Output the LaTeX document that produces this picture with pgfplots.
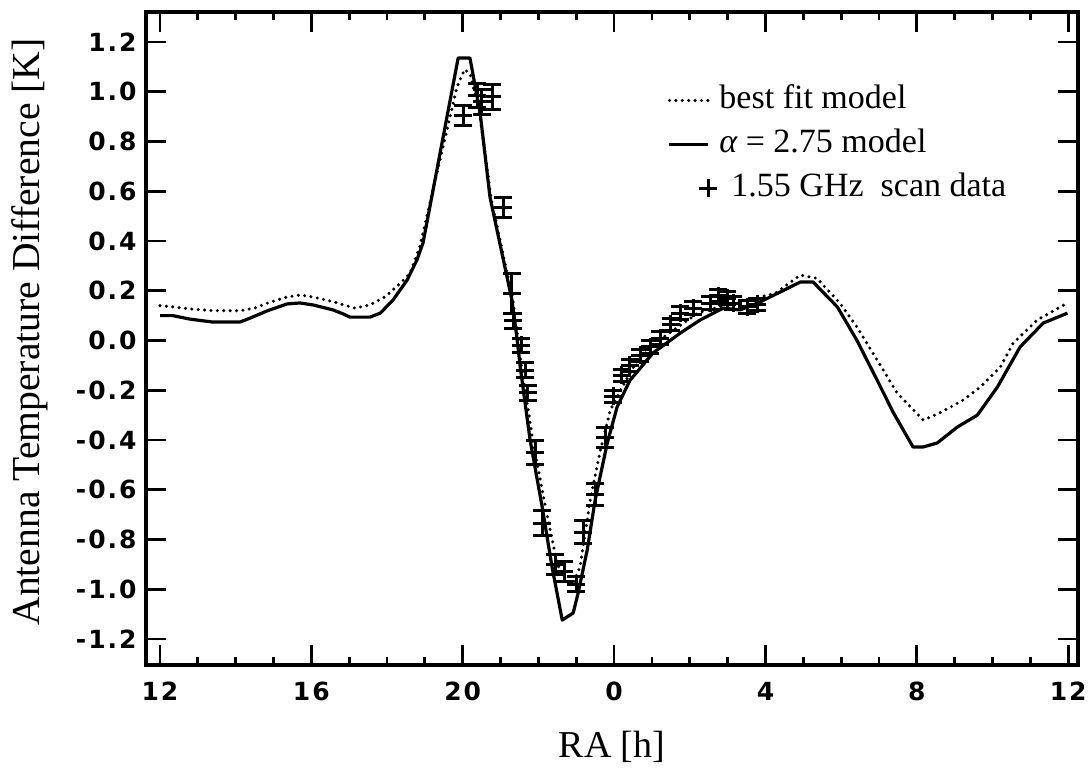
\documentclass[border=0pt]{standalone}
\usepackage{fontspec}
\setmainfont{Liberation Serif}
\newfontfamily\tickfont[LetterSpace=8]{DejaVu Sans}
\usepackage{pgfplots}
\usepackage{pgfplotstable}
\pgfplotsset{compat=1.18}

% alpha = 2.75 model (RA in hours, 12..36 = 12h..24h,0h..12h)
\pgfplotstableread{
h v
12.00 0.100
12.34 0.100
12.79 0.086
13.40 0.074
14.11 0.074
14.38 0.090
14.83 0.119
15.36 0.147
15.70 0.151
16.04 0.143
16.57 0.123
16.84 0.107
17.02 0.094
17.55 0.094
17.82 0.110
18.16 0.163
18.53 0.243
18.79 0.324
18.95 0.392
19.88 1.136
20.19 1.136
20.46 0.915
20.72 0.577
21.00 0.377
21.30 0.163
21.44 0.002
21.52 -0.107
21.78 -0.400
22.10 -0.669
22.36 -0.910
22.63 -1.124
22.92 -1.095
23.05 -1.015
23.29 -0.842
23.50 -0.641
23.82 -0.412
24.08 -0.267
24.42 -0.160
25.03 -0.050
25.75 0.030
26.27 0.082
26.88 0.130
27.33 0.123
27.86 0.155
28.39 0.195
28.92 0.235
29.26 0.235
29.90 0.135
30.42 0.000
30.95 -0.159
31.38 -0.290
31.90 -0.428
32.17 -0.428
32.54 -0.412
33.07 -0.348
33.60 -0.300
34.13 -0.187
34.73 -0.026
35.34 0.070
35.98 0.110
}\alphamodel

% best fit model
\pgfplotstableread{
h v
12.00 0.140
12.34 0.135
12.79 0.127
13.40 0.120
14.11 0.120
14.50 0.130
14.83 0.150
15.36 0.175
15.70 0.183
16.04 0.175
16.57 0.156
17.15 0.130
17.55 0.143
17.95 0.176
18.35 0.230
18.61 0.270
18.87 0.380
19.85 1.020
20.05 1.090
20.20 1.070
20.46 0.900
20.75 0.570
21.33 0.160
21.55 -0.100
21.85 -0.400
22.20 -0.680
22.50 -0.900
22.75 -0.970
22.92 -0.975
23.10 -0.910
23.37 -0.640
23.64 -0.440
23.90 -0.280
24.17 -0.200
24.62 -0.078
25.31 0.014
26.21 0.110
27.00 0.145
27.60 0.165
28.26 0.190
28.92 0.263
29.36 0.250
29.97 0.150
30.42 0.054
30.95 -0.078
31.48 -0.211
32.17 -0.320
32.62 -0.290
33.23 -0.239
33.68 -0.187
34.21 -0.106
34.55 -0.010
35.18 0.082
35.98 0.151
}\bestfit

% 1.55 GHz scan data
\pgfplotstableread{
h v e
20.01 0.905 0.040
20.38 0.985 0.050
20.50 0.960 0.050
20.78 0.980 0.050
21.07 0.535 0.040
21.30 0.190 0.080
21.33 0.080 0.030
21.55 -0.020 0.030
21.65 -0.120 0.030
21.72 -0.210 0.030
21.91 -0.450 0.050
22.10 -0.735 0.050
22.45 -0.900 0.040
22.68 -0.930 0.040
23.00 -0.980 0.030
23.18 -0.770 0.045
23.50 -0.620 0.045
23.76 -0.390 0.040
23.98 -0.225 0.025
24.20 -0.140 0.025
24.42 -0.100 0.025
24.69 -0.060 0.025
24.95 -0.026 0.025
25.22 0.010 0.025
25.50 0.065 0.025
25.75 0.110 0.025
26.09 0.130 0.025
26.54 0.150 0.025
26.75 0.180 0.025
26.99 0.170 0.025
27.15 0.150 0.025
27.52 0.135 0.025
27.78 0.145 0.025
}\scandata

\begin{document}
\begin{tikzpicture}
\begin{axis}[
  scale only axis, width=466pt, height=326.5pt,
  xmin=11.63, xmax=36.26, ymin=-1.3045, ymax=1.3206,
  axis line style={line width=1.7pt},
  tick align=inside, xtick pos=both, ytick pos=both,
  xtick={12,16,20,24,28,32,36}, xticklabels={12,16,20,0,4,8,12},
  minor x tick num=3,
  ytick={-1.2,-1,-0.8,-0.6,-0.4,-0.2,0,0.2,0.4,0.6,0.8,1,1.2},
  yticklabels={-1.2,-1.0,-0.8,-0.6,-0.4,-0.2,0.0,0.2,0.4,0.6,0.8,1.0,1.2},
  major tick length=10pt, minor tick length=4pt,
  tick style={line width=1.4pt, black},
  ticklabel style={font=\tickfont\bfseries\fontsize{12.5}{14}\selectfont},
  yticklabel style={anchor=east, inner sep=0pt, xshift=-4.5pt},
  xticklabel style={anchor=north, inner sep=0pt, yshift=-8.5pt},
  xlabel={RA [h]}, ylabel={Antenna Temperature Difference [K]},
  xlabel style={font=\fontsize{19}{22}\selectfont, at={(axis description cs:0.5,-0.1256)}, anchor=center},
  ylabel style={font=\fontsize{19.8}{22}\selectfont, at={(axis description cs:-0.1245,0.51)}, anchor=center},
  legend cell align=left,
  legend image code/.code={\draw[#1] plot coordinates {(0pt,0pt) (19.5pt,0pt)};},
  legend style={draw=none, fill=none, at={(axis cs:25.25,1.055)}, anchor=north west,
    font=\fontsize{17}{19}\selectfont, row sep=4pt, column sep=0pt,
    nodes={inner sep=1pt, text height=12pt, text depth=4pt}},
]
\addlegendimage{line width=1.7pt, dash pattern=on 0pt off 3.2pt, line cap=round}
\addlegendentry{best fit model}
\addlegendimage{line width=1.6pt}
\addlegendentry{{\itshape α} = 2.75 model}
\addlegendimage{only marks, mark=+, mark size=4.5pt, line width=1.5pt, mark indices={2}}
\addlegendentry{\hspace{6pt}1.55 GHz\ \ scan data}

\addplot[forget plot, line width=1.6pt, line join=round] table[x=h, y=v] {\alphamodel};
\addplot[forget plot, line width=1.7pt, dash pattern=on 0pt off 3.2pt, line cap=round] table[x=h, y=v] {\bestfit};
\addplot[forget plot, only marks, mark=+, mark size=4.5pt, line width=1.5pt,
  error bars/.cd, y dir=both, y explicit,
  error mark options={rotate=90, mark size=4.5pt, line width=1.5pt},
  error bar style={line width=1.5pt}]
  table[x=h, y=v, y error=e] {\scandata};
\end{axis}
\pgfresetboundingbox
\path ([shift={(-73pt,-53pt)}]current axis.south west) rectangle ([shift={(472.5pt,332.5pt)}]current axis.south west);
\end{tikzpicture}
\end{document}
